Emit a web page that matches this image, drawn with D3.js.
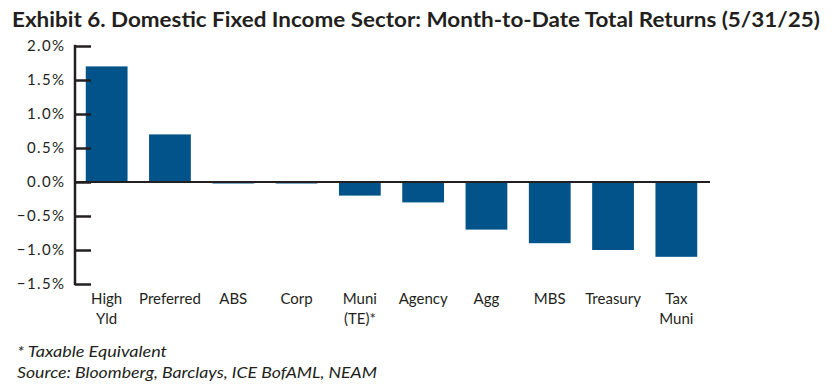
<!DOCTYPE html>
<html><head><meta charset="utf-8">
<script src="https://cdn.jsdelivr.net/npm/d3@7"></script>
<style>body{margin:0;background:#fff;} text{font-family:Lato,"Open Sans",sans-serif;}</style>
</head><body>
<svg id="c" width="832" height="387"></svg>
<script>
const categories = ["High\nYld","Preferred","ABS","Corp","Muni\n(TE)*","Agency","Agg","MBS","Treasury","Tax\nMuni"];
const values = [1.7, 0.7, -0.02, -0.02, -0.2, -0.3, -0.7, -0.9, -1.0, -1.1];
const yTicks = [2.0, 1.5, 1.0, 0.5, 0.0, -0.5, -1.0, -1.5];
const title = "Exhibit 6. Domestic Fixed Income Sector: Month-to-Date Total Returns (5/31/25)";
const notes = ["* Taxable Equivalent", "Source: Bloomberg, Barclays, ICE BofAML, NEAM"];
const noteWidths = [150, 360];

const svg = d3.select("#c");
const color = "#01538a";
const y = d3.scaleLinear().domain([-1.5, 2.0]).range([284, 46]);
const x = d3.scaleBand().domain(categories).range([75, 708]).paddingInner(0.34).paddingOuter(0.17);

svg.append("text").attr("x", 12).attr("y", 27).attr("font-size", 20).attr("font-weight", 700)
  .attr("fill", "#231f20").attr("textLength", 808).attr("lengthAdjust", "spacingAndGlyphs").text(title);

svg.selectAll("rect.bar").data(values).join("rect").attr("class","bar")
  .attr("x", (d,i)=>x(categories[i])).attr("width", x.bandwidth())
  .attr("y", d=>y(Math.max(0,d))).attr("height", d=>Math.max(1.5, Math.abs(y(d)-y(0))))
  .attr("fill", color);

// baseline
svg.append("line").attr("x1", 75).attr("x2", 710).attr("y1", y(0)).attr("y2", y(0))
  .attr("stroke", "#231f20").attr("stroke-width", 2);

const yAxis = d3.axisRight(y).tickValues(yTicks).tickSize(16).tickFormat("");
const g = svg.append("g").attr("transform", "translate(75,0)").call(yAxis);
g.select(".domain").remove();
g.selectAll(".tick line").attr("stroke", "#231f20").attr("stroke-width", 2.5);
svg.append("line").attr("x1", 75).attr("x2", 75).attr("y1", y(2.0)-1.2).attr("y2", y(-1.5)+1.2)
  .attr("stroke", "#231f20").attr("stroke-width", 2.5);

svg.selectAll("text.yl").data(yTicks).join("text").attr("class","yl")
  .attr("x", 65.5).attr("y", d=>y(d)).attr("dy", "0.36em").attr("text-anchor","end")
  .attr("font-size", 15).attr("letter-spacing", 1.4).attr("fill", "#231f20")
  .text(d=>d3.format(".1f")(d)+"%");

const xl = svg.selectAll("text.xl").data(categories).join("text").attr("class","xl")
  .attr("text-anchor","middle").attr("font-size", 15).attr("fill","#231f20");
xl.each(function(d){
  const t = d3.select(this);
  d.split("\n").forEach((s,i)=>{
    t.append("tspan").attr("x", x(d)+x.bandwidth()/2).attr("y", 304 + i*20).text(s);
  });
});

svg.selectAll("text.note").data(notes).join("text").attr("class","note")
  .attr("x", 17).attr("y", (d,i)=>357 + i*21).attr("font-size", 16).attr("font-style","italic")
  .attr("textLength", (d,i)=>noteWidths[i]).attr("lengthAdjust","spacingAndGlyphs")
  .attr("fill","#231f20").text(d=>d);
</script>
</body></html>
